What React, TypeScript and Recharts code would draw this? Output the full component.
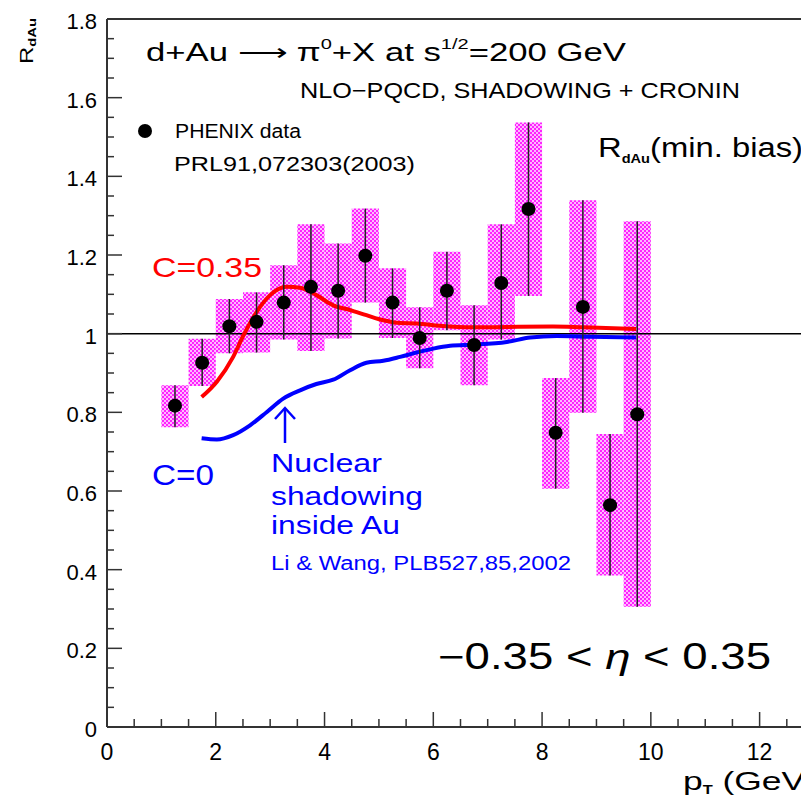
import React from "react";
import {
  ComposedChart,
  XAxis,
  YAxis,
  Line,
  Scatter,
  ErrorBar,
  ReferenceArea,
  ReferenceLine,
} from "recharts";

// PHENIX d+Au pi0 R_dAu points (pT bin centres), with box edges
const ptX = [1.25, 1.75, 2.25, 2.75, 3.25, 3.75, 4.25, 4.75, 5.25, 5.75, 6.25, 6.75, 7.25, 7.75, 8.25, 8.75, 9.25, 9.75];
const ptY = [0.817, 0.926, 1.019, 1.03, 1.079, 1.119, 1.109, 1.198, 1.079, 0.989, 1.109, 0.971, 1.129, 1.317, 0.748, 1.068, 0.564, 0.795];
const boxHi = [0.869, 0.987, 1.088, 1.105, 1.174, 1.278, 1.229, 1.318, 1.166, 1.067, 1.208, 1.072, 1.278, 1.537, 0.887, 1.339, 0.745, 1.286];
const boxLo = [0.762, 0.867, 0.95, 0.952, 0.985, 0.956, 0.988, 1.079, 0.989, 0.912, 1.009, 0.869, 0.985, 1.096, 0.606, 0.799, 0.385, 0.306];
const binHalf = 0.25;

// C=0.35 (shadowing + Cronin)
const redX = [1.74, 2.02, 2.32, 2.51, 2.75, 3.0, 3.3, 3.55, 3.85, 4.16, 4.47, 4.77, 5.08, 5.39, 5.69, 6.12, 6.73, 7.35, 8.2, 8.76, 9.73];
const redY = [0.839, 0.878, 0.941, 0.996, 1.055, 1.098, 1.119, 1.117, 1.098, 1.072, 1.06, 1.047, 1.034, 1.027, 1.026, 1.02, 1.016, 1.017, 1.018, 1.016, 1.012];

// C=0 (shadowing only)
const blueX = [1.74, 2.02, 2.32, 2.63, 2.94, 3.24, 3.55, 3.85, 4.16, 4.47, 4.77, 5.08, 5.39, 5.69, 6.0, 6.31, 6.73, 7.35, 7.78, 8.27, 8.88, 9.73];
const blueY = [0.734, 0.731, 0.742, 0.767, 0.801, 0.835, 0.856, 0.872, 0.883, 0.907, 0.926, 0.931, 0.941, 0.952, 0.962, 0.969, 0.972, 0.979, 0.99, 0.994, 0.992, 0.99];

const xMajor = [0, 2, 4, 6, 8, 10, 12];
const xTicks = [0, 0.5, 1, 1.5, 2, 2.5, 3, 3.5, 4, 4.5, 5, 5.5, 6, 6.5, 7, 7.5, 8, 8.5, 9, 9.5, 10, 10.5, 11, 11.5, 12, 12.5, 13];
const yMajor = [0, 0.2, 0.4, 0.6, 0.8, 1, 1.2, 1.4, 1.6, 1.8];
const yLabels = ["0", "0.2", "0.4", "0.6", "0.8", "1", "1.2", "1.4", "1.6", "1.8"];
const yTicks = [
  0, 0.05, 0.1, 0.15, 0.2, 0.25, 0.3, 0.35, 0.4, 0.45, 0.5, 0.55, 0.6, 0.65, 0.7, 0.75, 0.8, 0.85, 0.9,
  0.95, 1, 1.05, 1.1, 1.15, 1.2, 1.25, 1.3, 1.35, 1.4, 1.45, 1.5, 1.55, 1.6, 1.65, 1.7, 1.75, 1.8,
];

const FONT = "'Liberation Sans', Arial, sans-serif";
const AXIS = "#333";

const points = ptX.map((x, i) => ({
  x,
  y: ptY[i],
  err: [ptY[i] - boxLo[i], boxHi[i] - ptY[i]],
}));
const redData = redX.map((x, i) => ({ x, y: redY[i] }));
const blueData = blueX.map((x, i) => ({ x, y: blueY[i] }));

const near = (a: number, b: number) => Math.abs(a - b) < 1e-6;

function YTick(props: any) {
  const { x, y, payload } = props;
  const idx = yMajor.findIndex((m) => near(m, payload.value));
  const major = idx >= 0;
  return (
    <g>
      <line x1={x} x2={x + (major ? 15 : 7)} y1={y} y2={y} stroke={AXIS} strokeWidth={1.5} />
      {major && (
        <text x={x - 10} y={y + 10} textAnchor="end" fontSize={22} fontFamily={FONT} fill="#000">
          {yLabels[idx]}
        </text>
      )}
    </g>
  );
}

function XTick(props: any) {
  const { x, y, payload } = props;
  const major = xMajor.some((m) => near(m, payload.value));
  return (
    <g>
      <line x1={x} x2={x} y1={y} y2={y - (major ? 15 : 8)} stroke={AXIS} strokeWidth={1.5} />
      {major && (
        <text x={x} y={y + 33} textAnchor="middle" fontSize={23} fontFamily={FONT} fill="#000">
          {payload.value}
        </text>
      )}
    </g>
  );
}

const Dot = (p: any) => <circle cx={p.cx} cy={p.cy} r={7} fill="#000" />;

export default function App() {
  return (
    <div style={{ position: "relative", width: 809, height: 804, overflow: "hidden", margin: -8, background: "#fff" }}>
      <svg width={0} height={0} style={{ position: "absolute" }}>
        <defs>
          <pattern id="checker" x={0} y={0} width={4} height={4} patternUnits="userSpaceOnUse">
            <rect x={0} y={0} width={4} height={4} fill="#ff22ff" />
            <rect x={0} y={0} width={2} height={2} fill="#ffb8ff" />
            <rect x={2} y={2} width={2} height={2} fill="#ffb8ff" />
          </pattern>
        </defs>
      </svg>
      <ComposedChart width={814} height={804} margin={{ top: 19, right: 0, bottom: 0, left: 0 }}>
        <XAxis
          type="number"
          dataKey="x"
          domain={[0, 13]}
          ticks={xTicks}
          interval={0}
          height={77}
          tickSize={0}
          tickMargin={0}
          tickLine={false}
          tick={<XTick />}
          axisLine={{ stroke: AXIS, strokeWidth: 2 }}
          allowDataOverflow
        />
        <YAxis
          type="number"
          dataKey="y"
          domain={[0, 1.8]}
          ticks={yTicks}
          interval={0}
          width={107}
          tickSize={0}
          tickMargin={0}
          tickLine={false}
          tick={<YTick />}
          axisLine={{ stroke: AXIS, strokeWidth: 2 }}
          allowDataOverflow
        />
        {ptX.map((x, i) => (
          <ReferenceArea
            key={i}
            x1={x - binHalf}
            x2={x + binHalf}
            y1={boxLo[i]}
            y2={boxHi[i]}
            fill="url(#checker)"
            fillOpacity={1}
            stroke="none"
          />
        ))}
        <ReferenceLine y={1.8} stroke={AXIS} strokeWidth={2} />
        <ReferenceLine y={1} stroke="#000" strokeWidth={1.5} />
        <Line data={redData} dataKey="y" type="monotone" stroke="#ff0000" strokeWidth={4} dot={false} isAnimationActive={false} />
        <Line data={blueData} dataKey="y" type="monotone" stroke="#0000ff" strokeWidth={4} dot={false} isAnimationActive={false} />
        <Scatter data={points} dataKey="y" shape={<Dot />} isAnimationActive={false}>
          <ErrorBar dataKey="err" direction="y" width={0} stroke="#222" strokeWidth={1.5} />
        </Scatter>
      </ComposedChart>

      <svg width={809} height={804} style={{ position: "absolute", left: 0, top: 0, pointerEvents: "none" }} fontFamily={FONT}>
        <text transform="translate(33,64) rotate(-90)" fontSize={18} textLength={46} lengthAdjust="spacingAndGlyphs">
          R<tspan fontSize={11} fontWeight="bold" dy={3}>dAu</tspan>
        </text>
        <text x={683} y={790} fontSize={26} textLength={134} lengthAdjust="spacingAndGlyphs">
          p<tspan fontSize={12} fontWeight="bold" dy={4}>T</tspan>
          <tspan dy={-4}> (GeV)</tspan>
        </text>

        <text x={146} y={61} fontSize={26} textLength={480} lengthAdjust="spacingAndGlyphs">
          d+Au ⟶ π<tspan fontSize={15} dy={-12}>0</tspan>
          <tspan dy={12}>+X at s</tspan>
          <tspan fontSize={15} dy={-12}>1/2</tspan>
          <tspan dy={12}>=200 GeV</tspan>
        </text>
        <text x={300} y={98} fontSize={22} textLength={440} lengthAdjust="spacingAndGlyphs">
          NLO−PQCD, SHADOWING + CRONIN
        </text>

        <circle cx={145} cy={131} r={7} fill="#000" />
        <text x={175} y={138} fontSize={20} textLength={126} lengthAdjust="spacingAndGlyphs">
          PHENIX data
        </text>
        <text x={174} y={171} fontSize={20} textLength={241} lengthAdjust="spacingAndGlyphs">
          PRL91,072303(2003)
        </text>

        <text x={598} y={157} fontSize={27} textLength={205} lengthAdjust="spacingAndGlyphs">
          R<tspan fontSize={12} fontWeight="bold" dy={6}>dAu</tspan>
          <tspan dy={-6}>(min. bias)</tspan>
        </text>

        <text x={152} y={277} fontSize={28} fill="#ff0000" textLength={110} lengthAdjust="spacingAndGlyphs">
          C=0.35
        </text>
        <text x={152} y={485} fontSize={29} fill="#0000ff" textLength={62} lengthAdjust="spacingAndGlyphs">
          C=0
        </text>

        <g stroke="#0000ff" strokeWidth={2.5} fill="none">
          <line x1={285} y1={443} x2={285} y2={408} />
          <polyline points="275,419 285,408 295,419" />
        </g>
        <g fill="#0000ff" fontSize={25}>
          <text x={271} y={472} textLength={111} lengthAdjust="spacingAndGlyphs">Nuclear</text>
          <text x={271} y={505} textLength={152} lengthAdjust="spacingAndGlyphs">shadowing</text>
          <text x={271} y={534} textLength={129} lengthAdjust="spacingAndGlyphs">inside Au</text>
          <text x={271} y={570} fontSize={20} textLength={300} lengthAdjust="spacingAndGlyphs">
            Li &amp; Wang, PLB527,85,2002
          </text>
        </g>

        <text x={438} y={669} fontSize={36} textLength={333} lengthAdjust="spacingAndGlyphs">
          −0.35 &lt; <tspan fontStyle="italic">η</tspan> &lt; 0.35
        </text>
      </svg>
    </div>
  );
}
